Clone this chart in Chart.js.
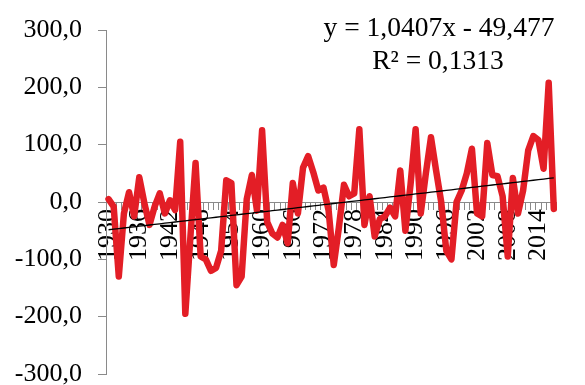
<!DOCTYPE html>
<html>
<head>
<meta charset="utf-8">
<script src="https://cdn.jsdelivr.net/npm/chart.js@4/dist/chart.umd.min.js"></script>
<style>
  html, body { margin: 0; padding: 0; background: #fff; }
  #wrap { width: 585px; height: 385px; }
</style>
</head>
<body>
<div id="wrap"><canvas id="chart"></canvas></div>
<script>
// years 1930..2017
const years = Array.from({ length: 88 }, (_, i) => String(1930 + i));

const values = [
	5, -8, -130, -20, 17, -25, 43, -2, -40, -8,
	15, -20, 3, -14, 105, -195, -60, 68, -95, -100,
	-120, -115, -85, 38, 33, -145, -130, 5, 47, -15,
	125, -35, -55, -62, -40, -72, 33, -20, 60, 80,
	52, 20, 25, -15, -110, -45, 30, 10, 15, 127,
	-40, 10, -60, -30, -25, -10, -25, 55, -50, 30,
	127, -20, 50, 113, 55, 0, -85, -100, 0, 20,
	50, 93, -20, -25, 103, 47, 45, 10, -95, 42,
	-20, 20, 90, 115, 108, 58, 208, -12
];

// linear trend as printed on the chart
const trendSlope = 1.0407;
const trendIntercept = -49.477;
const trendLabels = ['y = 1,0407x - 49,477', 'R² = 0,1313'];

const yTicks = [-300, -200, -100, 0, 100, 200, 300];

const trend = years.map((_, i) => trendSlope * (i + 1) + trendIntercept);

const serif = '"Liberation Serif", "Times New Roman", serif';
const fmt = v => v.toFixed(1).replace('.', ',');

const trendText = {
	id: 'trendText',
	afterDraw(chart) {
		const ctx = chart.ctx;
		ctx.save();
		ctx.font = '27.5px ' + serif;
		ctx.fillStyle = '#000';
		ctx.textAlign = 'center';
		ctx.textBaseline = 'alphabetic';
		ctx.fillText(trendLabels[0], 439, 36);
		ctx.fillText(trendLabels[1], 438, 69);
		ctx.restore();
	}
};

new Chart(document.getElementById('chart'), {
	type: 'line',
	data: {
		labels: years,
		datasets: [
			{
				data: values,
				borderColor: '#E31E26',
				borderWidth: 6.5,
				pointRadius: 0,
				tension: 0,
				borderJoinStyle: 'round',
				borderCapStyle: 'round',
				order: 2,
			},
			{
				data: trend,
				borderColor: '#000',
				borderWidth: 1.3,
				pointRadius: 0,
				order: 1,
			}
		]
	},
	options: {
		responsive: true,
		maintainAspectRatio: false,
		animation: false,
		events: [],
		layout: { padding: { top: 30, right: 0, bottom: 11, left: 0 } },
		plugins: { legend: { display: false }, tooltip: { enabled: false } },
		scales: {
			x: {
				type: 'category',
				position: { y: 0 },
				offset: true,
				grid: { offset: true, drawOnChartArea: false, tickLength: 7, color: '#8a8a8a' },
				border: { color: '#8a8a8a' },
				ticks: {
					autoSkip: false,
					minRotation: 90,
					maxRotation: 90,
					padding: 0,
					color: '#000',
					font: { family: serif, size: 26 },
					callback: (v, i) => (i % 6 === 0 ? years[i] : '')
				}
			},
			y: {
				min: -300,
				max: 300,
				afterBuildTicks: s => { s.ticks = yTicks.map(v => ({ value: v })); },
				afterFit: s => { s.width = 106; s.paddingTop = 0; s.paddingBottom = 0; },
				grid: { drawOnChartArea: false, tickLength: 8, color: '#8a8a8a' },
				border: { color: '#8a8a8a' },
				ticks: {
					padding: 16,
					color: '#000',
					font: { family: serif, size: 26 },
					callback: v => fmt(v)
				}
			}
		}
	},
	plugins: [trendText]
});
</script>
</body>
</html>
